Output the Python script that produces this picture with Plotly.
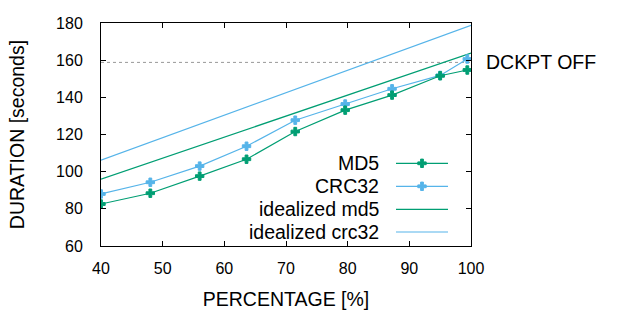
import plotly.graph_objects as go

pct = [40, 48, 56, 63.6, 71.5, 79.6, 87.2, 95, 99.4]
md5 = [82.6, 88.4, 97.6, 106.7, 121.6, 133.1, 141.2, 151.6, 154.7]
crc32 = [88, 94.3, 103, 113.7, 127.7, 136.4, 144.6, 151.8, 160.6]
ideal_x = [40, 100]
ideal_md5 = [96, 163.8]
ideal_crc32 = [106.2, 178.7]
dckpt_off = 158.8

GREEN = "#009e73"
BLUE = "#56b4e9"
FONT = "Liberation Sans"
TXT = 19.5

L, R, T, B = 101, 471, 23, 246
W, H = 640, 320

MK = dict(symbol="cross", size=7)

fig = go.Figure()
fig.add_trace(go.Scatter(x=[40, 100], y=[dckpt_off, dckpt_off], mode="lines",
                         line=dict(color="#999999", width=1, dash="dot"), showlegend=False))
fig.add_trace(go.Scatter(x=ideal_x, y=ideal_crc32, mode="lines",
                         line=dict(color=BLUE, width=1.2), showlegend=False))
fig.add_trace(go.Scatter(x=ideal_x, y=ideal_md5, mode="lines",
                         line=dict(color=GREEN, width=1.2), showlegend=False))
fig.add_trace(go.Scatter(x=pct, y=crc32, mode="lines+markers",
                         line=dict(color=BLUE, width=1.2),
                         marker=dict(color=BLUE, line=dict(color=BLUE, width=1), **MK), showlegend=False))
fig.add_trace(go.Scatter(x=pct, y=md5, mode="lines+markers",
                         line=dict(color=GREEN, width=1.2),
                         marker=dict(color=GREEN, line=dict(color=GREEN, width=1), **MK), showlegend=False))

# manual gnuplot-style legend on an overlay axis in pixel units
legend = [("MD5", GREEN, True), ("CRC32", BLUE, True),
          ("idealized md5", GREEN, False), ("idealized crc32", BLUE, False)]
ys = [163.3, 186.3, 209.3, 232]
for (name, col, mk), yy in zip(legend, ys):
    fig.add_trace(go.Scatter(x=[396, 448], y=[yy, yy], mode="lines", xaxis="x2", yaxis="y2",
                             line=dict(color=col, width=1.2), showlegend=False))
    if mk:
        fig.add_trace(go.Scatter(x=[422], y=[yy], mode="markers", xaxis="x2", yaxis="y2",
                                 marker=dict(color=col, line=dict(color=col, width=1), **MK),
                                 showlegend=False))
    fig.add_annotation(x=381, y=yy, xref="x2", yref="y2", text=name, showarrow=False,
                       xanchor="right", yanchor="middle", font=dict(family=FONT, size=TXT, color="black"))

fig.add_annotation(x=(484 - L) / (R - L), y=dckpt_off, xref="paper", yref="y", text="DCKPT OFF",
                   showarrow=False, xanchor="left", yanchor="middle",
                   font=dict(family=FONT, size=TXT, color="black"))

axis_common = dict(showline=True, linecolor="black", linewidth=1, mirror="ticks",
                   ticks="inside", ticklen=5, tickcolor="black", showgrid=False, zeroline=False,
                   tickfont=dict(family=FONT, size=16, color="black"))
fig.update_layout(
    width=W, height=H,
    margin=dict(l=L, r=W - R, t=T, b=H - B),
    paper_bgcolor="white", plot_bgcolor="white",
    font=dict(family=FONT, size=16, color="black"),
    xaxis=dict(range=[40, 100], dtick=10, ticklabelstandoff=8,
               title=dict(text="PERCENTAGE [%]", font=dict(family=FONT, size=TXT), standoff=16),
               **axis_common),
    yaxis=dict(range=[60, 180], dtick=20, ticklabelstandoff=14,
               title=dict(text="DURATION [seconds]", font=dict(family=FONT, size=TXT), standoff=26),
               **axis_common),
    xaxis2=dict(range=[L, R], overlaying="x", visible=False, fixedrange=True),
    yaxis2=dict(range=[B, T], overlaying="y", visible=False, fixedrange=True),
)
fig.write_html("out.html")
